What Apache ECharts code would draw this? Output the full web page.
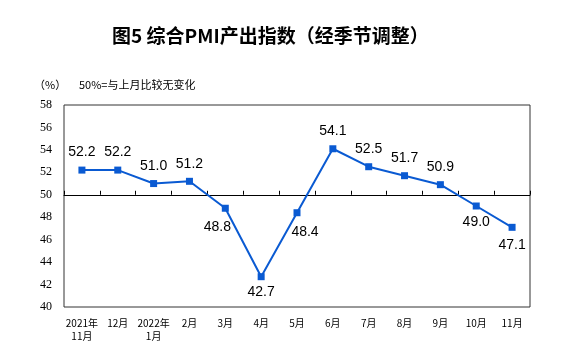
<!DOCTYPE html>
<html><head><meta charset="utf-8">
<script src="https://cdn.jsdelivr.net/npm/echarts@6/dist/echarts.min.js"></script>
<style>html,body{margin:0;padding:0;background:#fff}#c{width:576px;height:361px}</style>
</head><body><div id="c"></div>
<script>
const categories = ['2021年\n11月','12月','2022年\n1月','2月','3月','4月','5月','6月','7月','8月','9月','10月','11月'];
const values = [52.2, 52.2, 51.0, 51.2, 48.8, 42.7, 48.4, 54.1, 52.5, 51.7, 50.9, 49.0, 47.1];
const yTicks = [40, 42, 44, 46, 48, 50, 52, 54, 56, 58];
const refValue = 50;

// label placement per point (style only)
const labelPlace = [
  ['top',7,0],['top',7,0],['top',7,0],['top',7,0],
  ['bottom',8,-8],['bottom',5,0],['bottom',9,8],
  ['top',7,0],['top',7,0],['top',7,0],['top',7,0],
  ['bottom',6,0],['bottom',7,0]
];

const G = {left:64, top:105, width:466, height:202};
const yMin = yTicks[0], yMax = yTicks[yTicks.length-1], yStep = yTicks[1]-yTicks[0];
const refOffset = -G.height * (refValue - yMin) / (yMax - yMin);

const chart = echarts.init(document.getElementById('c'), null, {renderer:'canvas'});
chart.setOption({
  animation:false,
  backgroundColor:'#fff',
  title:{
    text:'图5 综合PMI产出指数（经季节调整）',
    left:107, top:21,
    textStyle:{fontFamily:'Noto Sans CJK SC', fontSize:19, fontWeight:'bold', color:'#000'}
  },
  graphic:[
    {type:'text', left:34, top:79, style:{text:'（%）', font:'11px "Noto Sans CJK SC"', fill:'#000'}},
    {type:'text', left:79, top:79, style:{text:'50%=与上月比较无变化', font:'11px "Noto Sans CJK SC"', fill:'#000'}}
  ],
  grid:{left:G.left, top:G.top, width:G.width, height:G.height, show:true, borderColor:'#333', borderWidth:1, backgroundColor:'transparent'},
  xAxis:[
    {type:'category', data:categories, boundaryGap:true, position:'bottom',
     axisLine:{show:false}, axisTick:{show:false},
     axisLabel:{interval:0, margin:10, color:'#000', fontSize:10, lineHeight:13, fontFamily:'Noto Sans CJK SC'}},
    {type:'category', data:categories, boundaryGap:true, position:'bottom', offset:refOffset,
     axisLine:{show:true, lineStyle:{color:'#000', width:1}},
     axisTick:{show:true, inside:true, length:4, interval:0, lineStyle:{color:'#000'}},
     axisLabel:{show:false}}
  ],
  yAxis:{type:'value', min:yMin, max:yMax, interval:yStep,
    axisLine:{show:false}, axisTick:{show:false}, splitLine:{show:false},
    axisLabel:{color:'#000', fontSize:12, fontFamily:'Liberation Serif', margin:12}},
  series:[{
    type:'line', xAxisIndex:0,
    data: values.map((v,i)=>({value:v, label:{position:labelPlace[i][0], distance:labelPlace[i][1], offset:[labelPlace[i][2],0]}})),
    symbol:'rect', symbolSize:7,
    lineStyle:{color:'#0a5ad2', width:2},
    itemStyle:{color:'#0a5ad2'},
    label:{show:true, formatter:p=>p.value.toFixed(1), fontFamily:'Liberation Sans', fontSize:14, color:'#000'}
  }]
});
</script></body></html>
